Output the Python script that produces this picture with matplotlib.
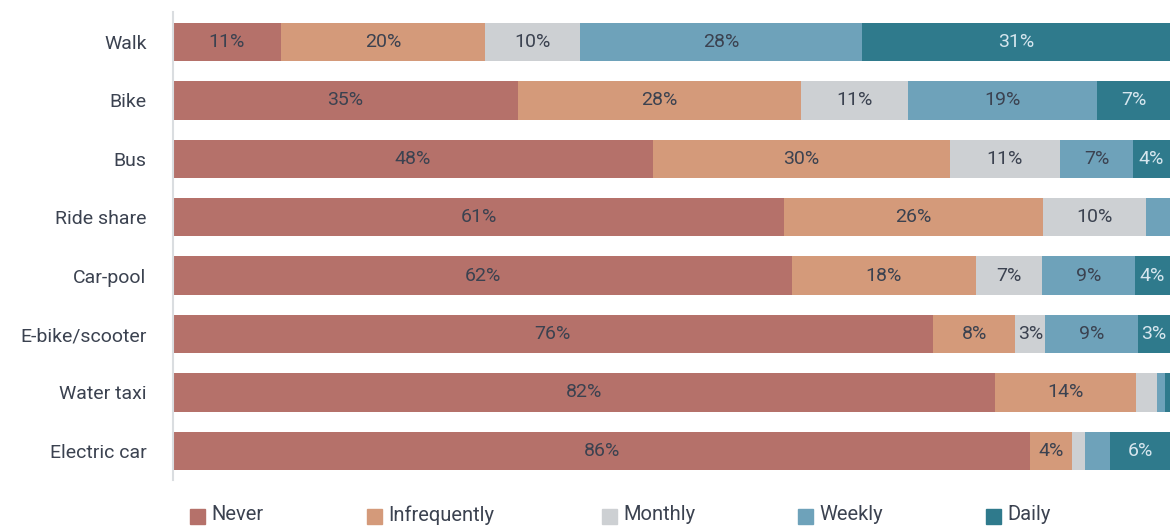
import matplotlib
matplotlib.use("Agg")
import matplotlib.pyplot as plt
from matplotlib.patches import Rectangle
from matplotlib import font_manager

categories = ["Walk", "Bike", "Bus", "Ride share", "Car-pool", "E-bike/scooter", "Water taxi", "Electric car"]
series_names = ["Never", "Infrequently", "Monthly", "Weekly", "Daily"]
never = [10.8, 34.6, 48.1, 61.3, 62.1, 76.2, 82.4, 86.0]
infrequently = [20.5, 28.4, 29.8, 26.0, 18.4, 8.3, 14.2, 4.2]
monthly = [9.5, 10.7, 11.1, 10.3, 6.7, 3.0, 2.1, 1.3]
weekly = [28.3, 19.0, 7.3, 2.4, 9.3, 9.3, 0.8, 2.5]
daily = [30.9, 7.3, 3.7, 0.0, 3.5, 3.2, 0.5, 6.0]

colors = ["#B5716A", "#D49A7A", "#CDD0D3", "#6EA2BA", "#2F7A8C"]
text_colors = ["#3B4250", "#3B4250", "#3B4250", "#3B4250", "#D6E6EE"]

avail = {f.name for f in font_manager.fontManager.ttflist}
fam = [f for f in ["Liberation Sans Narrow", "Roboto", "DejaVu Sans"] if f in avail]
plt.rcParams["font.family"] = fam

W, H = 1172, 527
fig = plt.figure(figsize=(W / 100, H / 100), dpi=100)
ax = fig.add_axes([173 / W, 1 - 480 / H, 997 / W, 468 / H])

series = [never, infrequently, monthly, weekly, daily]
ypos = list(range(len(categories)))
left = [0] * len(categories)
for vals, c, tc in zip(series, colors, text_colors):
    bars = ax.barh(ypos, vals, left=left, height=0.66, color=c, edgecolor="none")
    for b, v in zip(bars, vals):
        if v >= 2.8:
            ax.text(b.get_x() + b.get_width() / 2, b.get_y() + b.get_height() / 2,
                    f"{round(v)}%", ha="center", va="center", fontsize=14, color=tc)
    left = [l + v for l, v in zip(left, vals)]

ax.set_xlim(0, 100)
ax.set_ylim(7.5, -0.514)
ax.set_yticks(ypos)
ax.set_yticklabels(categories, fontsize=14, color="#3B4250")
ax.tick_params(axis="y", length=0, pad=19)
ax.set_xticks([])
for s in ["top", "right", "bottom"]:
    ax.spines[s].set_visible(False)
ax.spines["left"].set_color("#DADDE0")
ax.spines["left"].set_linewidth(1.5)

# legend
leg_x = [190, 367, 602, 798, 986]
for x, name, c in zip(leg_x, series_names, colors):
    fig.patches.append(Rectangle((x / W, 1 - 524 / H), 15 / W, 15 / H, transform=fig.transFigure,
                                 color=c, figure=fig))
    fig.text((x + 21) / W, 1 - 515 / H, name, fontsize=14.5, color="#3B4250", va="center", ha="left")

fig.savefig("out.png", dpi=100)
